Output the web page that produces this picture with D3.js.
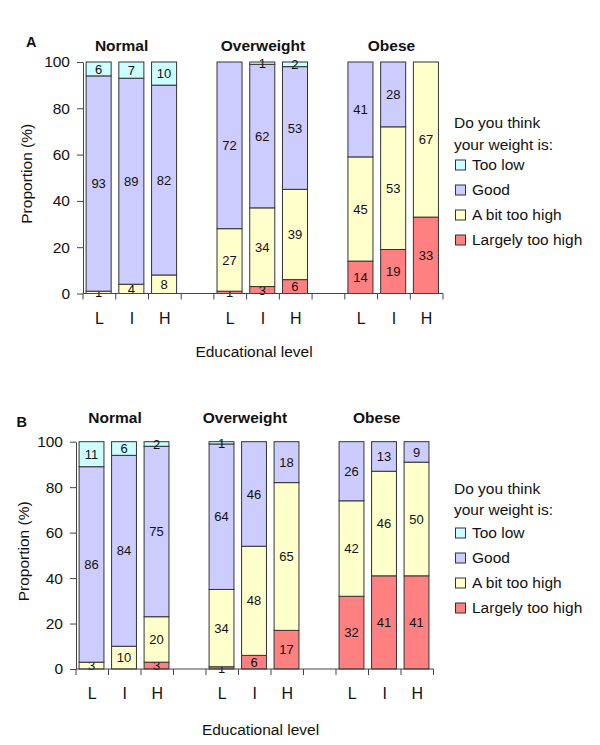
<!DOCTYPE html>
<html><head><meta charset="utf-8">
<script src="https://cdn.jsdelivr.net/npm/d3@7"></script>
<style>body{margin:0;background:#fff} text{font-family:"Liberation Sans",Arial,sans-serif;fill:#111}</style>
</head><body><svg id="c" width="600" height="745"></svg>
<script>
const groups = ["Normal","Overweight","Obese"];
const levels = ["L","I","H"];
const categories = ["Too low","Good","A bit too high","Largely too high"];
const colors = ["#ccffff","#ccccff","#ffffcc","#ff8080"];
const yTicks = [0,20,40,60,80,100];
const legendTitle = ["Do you think","your weight is:"];
const xTitle = "Educational level";
const yTitle = "Proportion (%)";
// bars in order: Normal L,I,H, Overweight L,I,H, Obese L,I,H
const aLargely = [0,0,0,1,3,6,14,19,33];
const aABit    = [1,4,8,27,34,39,45,53,67];
const aGood    = [93,89,82,72,62,53,41,28,0];
const aTooLow  = [6,7,10,0,1,2,0,0,0];
const bLargely = [0,0,3,1,6,17,32,41,41];
const bABit    = [3,10,20,34,48,65,42,46,50];
const bGood    = [86,84,75,64,46,18,26,13,9];
const bTooLow  = [11,6,2,1,0,0,0,0,0];

const svg = d3.select("#c");
const stackKeys = ["Largely too high","A bit too high","Good","Too low"];
const color = d3.scaleOrdinal().domain(categories).range(colors);

// slot keys with gaps
const slotKeys = [];
groups.forEach((g,gi)=>{ levels.forEach(l=>slotKeys.push(g+"|"+l)); if(gi<groups.length-1) slotKeys.push("gap"+gi); });

function panel(cfg){
  const {x0,x1,yTop,yBot,largely,abit,good,toolow} = cfg;
  const g = svg.append("g");
  const x = d3.scaleBand().domain(slotKeys).range([x0,x1]).padding(0);
  const y = d3.scaleLinear().domain([0,100]).range([yBot,yTop]);
  const step = x.step();
  const rows = [];
  let k=0;
  groups.forEach(gr=>levels.forEach(l=>{
    rows.push({key:gr+"|"+l,"Largely too high":largely[k],"A bit too high":abit[k],"Good":good[k],"Too low":toolow[k]}); k++;
  }));
  const series = d3.stack().keys(stackKeys)(rows);
  series.forEach(s=>{
    const segs = s.filter(d=>d[1]-d[0]>0);
    g.selectAll(null).data(segs).enter().append("rect")
      .attr("x",d=>x(d.data.key)+step*0.095)
      .attr("width",step*0.765)
      .attr("y",d=>y(d[1]))
      .attr("height",d=>y(d[0])-y(d[1]))
      .attr("fill",color(s.key))
      .attr("stroke","#333").attr("stroke-width",1);
    g.selectAll(null).data(segs).enter().append("text")
      .attr("x",d=>x(d.data.key)+step*0.095+step*0.765/2)
      .attr("y",d=>y((d[0]+d[1])/2))
      .attr("dy","0.36em")
      .attr("text-anchor","middle")
      .style("font-size","13px")
      .text(d=>d[1]-d[0]);
  });
  // y axis
  const ya = g.append("g").attr("transform",`translate(${x0},0)`)
    .call(d3.axisLeft(y).tickValues(yTicks).tickSize(6).tickSizeOuter(0).tickPadding(7));
  ya.selectAll("path,line").attr("stroke","#444");
  ya.selectAll("text").style("font-size","15.5px").style("font-family",'"Liberation Sans",Arial,sans-serif').attr("fill","#111");
  // x axis labels
  const xa = g.append("g").attr("transform",`translate(0,${yBot})`)
    .call(d3.axisBottom(x).tickSize(0).tickPadding(cfg.xPad).tickFormat(d=>d.startsWith("gap")?"":d.split("|")[1]));
  xa.select(".domain").remove();
  xa.selectAll("text").style("font-size","16px").style("font-family",'"Liberation Sans",Arial,sans-serif').attr("fill","#111");
  // x baseline & boundary ticks
  g.append("line").attr("x1",x0).attr("x2",x1).attr("y1",yBot).attr("y2",yBot).attr("stroke","#444");
  const bounds = slotKeys.map(kk=>x(kk)).concat([x1]);
  g.selectAll(null).data(bounds).enter().append("line")
    .attr("x1",d=>d).attr("x2",d=>d).attr("y1",yBot).attr("y2",yBot+6).attr("stroke","#444");
  // group titles
  groups.forEach((gr,i)=>{
    g.append("text").attr("x",x(gr+"|I")+step/2+cfg.titleDx[i]).attr("y",cfg.titleY)
      .attr("text-anchor","middle").style("font-size","15.5px").style("font-weight","bold").text(gr);
  });
  // panel letter
  g.append("text").attr("x",cfg.letterX).attr("y",cfg.letterY).style("font-size","14.5px").style("font-weight","bold").text(cfg.letter);
  // y title
  g.append("text").attr("transform",`translate(${cfg.yTitleX},${(yTop+yBot)/2+cfg.yTitleDy}) rotate(-90)`)
    .attr("text-anchor","middle").attr("dy","0.35em").style("font-size","15.5px").text(yTitle);
  // x title
  g.append("text").attr("x",cfg.xTitleX).attr("y",cfg.xTitleY).attr("text-anchor","middle").style("font-size","15.5px").text(xTitle);
  // legend
  legendTitle.forEach((t,i)=>{
    g.append("text").attr("x",454).attr("y",cfg.legY[i]).attr("dy","0.35em").style("font-size","15.5px").text(t);
  });
  categories.forEach((c,i)=>{
    const cy = cfg.legY[2]+i*cfg.legStep;
    g.append("rect").attr("x",455.5).attr("y",cy-5).attr("width",10).attr("height",10)
      .attr("fill",color(c)).attr("stroke","#333");
    g.append("text").attr("x",472).attr("y",cy).attr("dy","0.35em").style("font-size","15.5px").text(c);
  });
}

panel({letter:"A",x0:83,x1:443,yTop:62,yBot:293.5,largely:aLargely,abit:aABit,good:aGood,toolow:aTooLow,
  xPad:19.5,titleY:50.5,titleDx:[-10.5,0,-2.4],letterX:26,letterY:46.5,yTitleX:26.5,yTitleDy:-4,
  xTitleX:254,xTitleY:357,legY:[123,145,165],legStep:25});
panel({letter:"B",x0:76,x1:433.5,yTop:441.7,yBot:669,largely:bLargely,abit:bABit,good:bGood,toolow:bTooLow,
  xPad:18.5,titleY:422.5,titleDx:[-9.75,-9.75,-8],letterX:16.5,letterY:427,yTitleX:23.5,yTitleDy:-4,
  xTitleX:260.5,xTitleY:735,legY:[489,510,533],legStep:25});
</script></body></html>
